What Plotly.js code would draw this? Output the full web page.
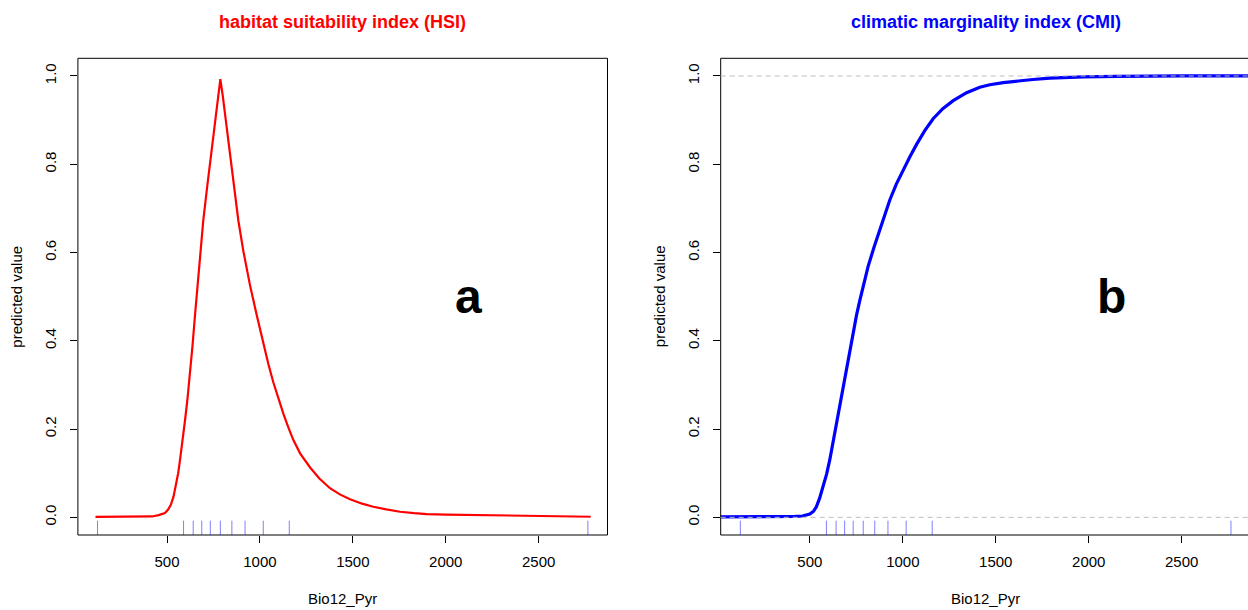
<!DOCTYPE html>
<html>
<head>
<meta charset="utf-8">
<script src="https://cdn.plot.ly/plotly-3.0.1.min.js"></script>
<style>html,body{margin:0;padding:0;background:#fff;}#chart{width:1248px;height:610px;}</style>
</head>
<body>
<div id="chart"></div>
<script>
// ---- data ----
const hsiX = [115, 250, 350, 420, 455, 489, 505, 520, 535, 548, 560, 570, 584, 597, 610, 624, 637, 650, 665, 680, 695, 717, 740, 764, 787, 800, 812, 825, 839, 861, 884, 911, 947, 983, 1022, 1045, 1072, 1100, 1126, 1153, 1180, 1216, 1245, 1270, 1320, 1377, 1430, 1485, 1550, 1610, 1680, 1754, 1830, 1898, 2000, 2149, 2300, 2418, 2600, 2780];
const hsiY = [0.001, 0.001, 0.001, 0.002, 0.005, 0.010, 0.017, 0.028, 0.047, 0.073, 0.100, 0.130, 0.172, 0.220, 0.268, 0.325, 0.388, 0.455, 0.530, 0.603, 0.672, 0.752, 0.834, 0.915, 0.993, 0.955, 0.915, 0.870, 0.818, 0.742, 0.672, 0.603, 0.525, 0.458, 0.385, 0.348, 0.306, 0.268, 0.235, 0.204, 0.175, 0.145, 0.127, 0.113, 0.088, 0.066, 0.052, 0.041, 0.031, 0.024, 0.018, 0.0127, 0.0095, 0.0075, 0.0063, 0.0052, 0.004, 0.003, 0.002, 0.0014];

const cmiX = [0, 250, 350, 420, 460, 500, 520, 535, 553, 571, 590, 607, 620, 634, 648, 661, 680, 697, 715, 733, 751, 769, 790, 813, 845, 876, 903, 930, 965, 1002, 1038, 1074, 1118, 1163, 1215, 1271, 1343, 1414, 1468, 1540, 1612, 1700, 1791, 1880, 1970, 2150, 2329, 2500, 2900];
const cmiY = [0.001, 0.001, 0.001, 0.002, 0.003, 0.0075, 0.014, 0.024, 0.044, 0.069, 0.098, 0.13, 0.16, 0.19, 0.22, 0.25, 0.297, 0.338, 0.380, 0.422, 0.458, 0.492, 0.530, 0.568, 0.612, 0.651, 0.686, 0.719, 0.755, 0.787, 0.817, 0.845, 0.876, 0.903, 0.926, 0.944, 0.962, 0.9745, 0.980, 0.985, 0.9885, 0.992, 0.995, 0.997, 0.998, 0.999, 1.0, 1.0, 1.0];

// rug (deciles of Bio12_Pyr)
const rugX = [126, 589, 641, 687, 733, 787, 849, 920, 1018, 1158, 2765];
// reference lines on CMI panel
const refLines = [0, 1];

const xTicks = [500, 1000, 1500, 2000, 2500];
const yTicks = [0, 0.2, 0.4, 0.6, 0.8, 1.0];
const yTickText = ['0.0', '0.2', '0.4', '0.6', '0.8', '1.0'];

const panelTitles = ['habitat suitability index (HSI)', 'climatic marginality index (CMI)'];
const panelLetters = ['a', 'b'];
const xLabel = 'Bio12_Pyr';
const yLabel = 'predicted value';

// ---- layout geometry ----
const W = 1248, H = 610;
const FONT = 'Liberation Sans, Arial, Helvetica, sans-serif';
const leftPx = [77.9, 607.5];
const rightPx = [720.7, 1250.6];
const topPx = 58.3, botPx = 535;
const yDom = [(H - botPx) / H, (H - topPx) / H];
const xRange = [20.4, 2870.6];
const xScale = (xRange[1] - xRange[0]) / (rightPx[1] - rightPx[0]);
const rightRangeEnd = xRange[0] + (W - rightPx[0]) * xScale;
const rightBoxX1 = (rightPx[1] - rightPx[0]) / (W - rightPx[0]);

const axisCommon = {
  showgrid: false, zeroline: false, showline: false,
  ticks: 'outside', ticklen: 7, tickwidth: 1, tickcolor: '#000',
  tickfont: {family: FONT, size: 15, color: '#000'}
};
function xAxis(domain, range, anchor) {
  return Object.assign({}, axisCommon, {
    domain: domain, range: range, anchor: anchor,
    tickmode: 'array', tickvals: xTicks, ticktext: xTicks.map(String),
    ticklabelstandoff: 6
  });
}
function yAxis(anchor) {
  return Object.assign({}, axisCommon, {
    domain: yDom, range: [-0.04, 1.04], anchor: anchor,
    tickmode: 'array', tickvals: yTicks, ticktext: yTickText,
    tickangle: -90, ticklabelstandoff: 8
  });
}

const traces = [
  {x: hsiX, y: hsiY, xaxis: 'x', yaxis: 'y', type: 'scatter', mode: 'lines',
   line: {color: '#ff0000', width: 2.2}, hoverinfo: 'skip'},
  {x: cmiX, y: cmiY, xaxis: 'x2', yaxis: 'y2', type: 'scatter', mode: 'lines',
   line: {color: '#0000ff', width: 3.2}, hoverinfo: 'skip'}
];

const shapes = [];
// boxes
shapes.push({type: 'rect', xref: 'x domain', yref: 'y domain', x0: 0, x1: 1, y0: 0, y1: 1,
             line: {color: '#000', width: 1}, fillcolor: 'rgba(0,0,0,0)'});
shapes.push({type: 'rect', xref: 'x2 domain', yref: 'y2 domain', x0: 0, x1: rightBoxX1, y0: 0, y1: 1,
             line: {color: '#000', width: 1}, fillcolor: 'rgba(0,0,0,0)'});
// reference lines (CMI)
refLines.forEach(v => shapes.push({type: 'line', xref: 'x2 domain', yref: 'y2', x0: 0, x1: 1, y0: v, y1: v,
  line: {color: '#bebebe', width: 1, dash: '5px,4px'}}));
// rugs
['x', 'x2'].forEach((xr, i) => {
  const yr = i === 0 ? 'y domain' : 'y2 domain';
  rugX.forEach(v => shapes.push({type: 'line', xref: xr, yref: yr, x0: v, x1: v, y0: 0, y1: 0.03,
    line: {color: 'rgba(0,0,255,0.5)', width: 1}}));
});

const centers = [(leftPx[0] + leftPx[1]) / 2 / W, (rightPx[0] + rightPx[1]) / 2 / W];
const titleColors = ['#ff0000', '#0000ff'];
const annotations = [];
[0, 1].forEach(i => {
  annotations.push({text: panelTitles[i], xref: 'paper', yref: 'paper', x: centers[i], y: (H - 22) / H,
    xanchor: 'center', yanchor: 'middle', showarrow: false,
    font: {family: FONT, size: 18, color: titleColors[i], weight: 'bold'}});
  annotations.push({text: xLabel, xref: 'paper', yref: 'paper', x: centers[i], y: (H - 598) / H,
    xanchor: 'center', yanchor: 'middle', showarrow: false,
    font: {family: FONT, size: 15, color: '#000'}});
  const yl = i === 0 ? 17 : 659.5;
  annotations.push({text: yLabel, xref: 'paper', yref: 'paper', x: yl / W, y: (yDom[0] + yDom[1]) / 2,
    xanchor: 'center', yanchor: 'middle', textangle: -90, showarrow: false,
    font: {family: FONT, size: 15, color: '#000'}});
  annotations.push({text: panelLetters[i], xref: i === 0 ? 'x' : 'x2', yref: i === 0 ? 'y' : 'y2',
    x: 2120, y: 0.5, xanchor: 'center', yanchor: 'middle', showarrow: false,
    font: {family: FONT, size: 48, color: '#000', weight: 'bold'}});
});

const layout = {
  width: W, height: H,
  margin: {l: 0, r: 0, t: 0, b: 0, pad: 0},
  paper_bgcolor: '#fff', plot_bgcolor: '#fff',
  showlegend: false,
  xaxis: xAxis([leftPx[0] / W, leftPx[1] / W], xRange, 'y'),
  yaxis: yAxis('x'),
  xaxis2: xAxis([rightPx[0] / W, 1], [xRange[0], rightRangeEnd], 'y2'),
  yaxis2: yAxis('x2'),
  shapes: shapes,
  annotations: annotations
};

Plotly.newPlot('chart', traces, layout, {staticPlot: true, displayModeBar: false});
</script>
</body>
</html>
